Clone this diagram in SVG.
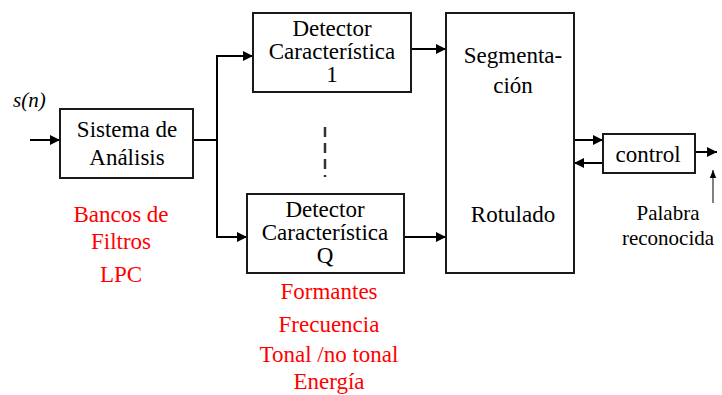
<svg xmlns="http://www.w3.org/2000/svg" width="722" height="395" viewBox="0 0 722 395">
<style>
.box{fill:#fff;stroke:#1a1a1a;stroke-width:2}
.ln{fill:none;stroke:#000;stroke-width:2}
.t{font-family:"Liberation Serif",Tinos,"Times New Roman","DejaVu Serif",serif;font-size:23px;fill:#000;text-anchor:middle}
.r{font-family:"Liberation Serif",Tinos,"Times New Roman","DejaVu Serif",serif;font-size:23px;fill:#ff0000;text-anchor:middle}
.p{font-size:21px}
</style>
<defs>
<marker id="ah" viewBox="0 0 10 10" refX="10" refY="5" markerWidth="10" markerHeight="10" markerUnits="userSpaceOnUse" orient="auto">
<path d="M0,0 L10,5 L0,10 z" fill="#000"/>
</marker>
<marker id="ahs" viewBox="0 0 10 10" refX="10" refY="5" markerWidth="8" markerHeight="8" markerUnits="userSpaceOnUse" orient="auto">
<path d="M0,1 L10,5 L0,9 z" fill="#000"/>
</marker>
</defs>
<g id="connectors">
<line class="ln" x1="30" y1="140" x2="60" y2="140" marker-end="url(#ah)"/>
<polyline class="ln" points="193,140 217,140"/>
<polyline class="ln" points="217,237 217,56 253,56" marker-end="url(#ah)"/>
<polyline class="ln" points="217,140 217,237 247,237" marker-end="url(#ah)"/>
<line class="ln" x1="411" y1="49" x2="446" y2="49" marker-end="url(#ah)"/>
<line class="ln" x1="404" y1="237" x2="446" y2="237" marker-end="url(#ah)"/>
<line class="ln" x1="574" y1="140" x2="603" y2="140" marker-end="url(#ah)"/>
<line class="ln" x1="603" y1="163" x2="574" y2="163" marker-end="url(#ah)"/>
<line class="ln" x1="695" y1="152" x2="717" y2="152" marker-end="url(#ah)"/>
<line x1="713" y1="203" x2="713" y2="170" stroke="#000" stroke-width="1" marker-end="url(#ahs)"/>
<line x1="325" y1="127" x2="325" y2="177" stroke="#333" stroke-width="2.5" stroke-dasharray="10,6"/>
</g>
<text x="13" y="107" font-family="'Liberation Serif',Tinos,'Times New Roman','DejaVu Serif',serif" font-size="21" font-style="italic" fill="#000">s(n)</text>
<g id="sistema">
<rect class="box" x="60" y="109" width="133" height="69"/>
<text class="t" x="127" y="137">Sistema de</text>
<text class="t" x="127" y="165">Análisis</text>
</g>
<g id="detector1">
<rect class="box" x="253" y="13" width="158" height="79"/>
<text class="t" x="332" y="36">Detector</text>
<text class="t" x="332" y="59">Característica</text>
<text class="t" x="332" y="82">1</text>
</g>
<g id="detectorQ">
<rect class="box" x="247" y="194" width="157" height="79"/>
<text class="t" x="325" y="217">Detector</text>
<text class="t" x="325" y="240">Característica</text>
<text class="t" x="325" y="263">Q</text>
</g>
<g id="segmentacion">
<rect class="box" x="446" y="13" width="128" height="260"/>
<text class="t" x="513" y="63">Segmenta-</text>
<text class="t" x="513" y="93">ción</text>
<text class="t" x="513" y="222">Rotulado</text>
</g>
<g id="control">
<rect class="box" x="603" y="134" width="92" height="39"/>
<text class="t" x="648" y="162">control</text>
</g>
<g id="labels">
<text class="t p" x="668" y="220">Palabra</text>
<text class="t p" x="668" y="245">reconocida</text>
<text class="r" x="121" y="222">Bancos de</text>
<text class="r" x="121" y="249">Filtros</text>
<text class="r" x="121" y="282">LPC</text>
<text class="r" x="329" y="299">Formantes</text>
<text class="r" x="329" y="332">Frecuencia</text>
<text class="r" x="329" y="362">Tonal /no tonal</text>
<text class="r" x="329" y="389">Energía</text>
</g>
</svg>
